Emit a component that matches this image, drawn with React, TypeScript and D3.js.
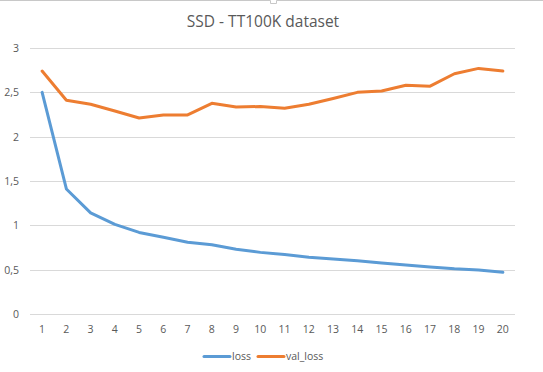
import { useEffect, useRef } from "react";
import * as d3 from "d3";

const epochs = ["1", "2", "3", "4", "5", "6", "7", "8", "9", "10", "11", "12", "13", "14", "15", "16", "17", "18", "19", "20"];
const loss = [2.5, 1.41, 1.14, 1.01, 0.92, 0.865, 0.81, 0.78, 0.73, 0.695, 0.67, 0.64, 0.62, 0.6, 0.575, 0.553, 0.53, 0.51, 0.497, 0.47];
const valLoss = [2.74, 2.41, 2.365, 2.29, 2.21, 2.245, 2.245, 2.376, 2.335, 2.34, 2.32, 2.365, 2.43, 2.5, 2.515, 2.58, 2.57, 2.71, 2.77, 2.74];
const yTicks = [0, 0.5, 1, 1.5, 2, 2.5, 3];

const seriesList = [
  { name: "loss", values: loss, color: "#5B9BD5" },
  { name: "val_loss", values: valLoss, color: "#ED7D31" }
];

export default function App() {
  const ref = useRef<SVGSVGElement | null>(null);

  useEffect(() => {
    if (!ref.current) return;
    const svg = d3.select(ref.current);
    svg.selectAll("*").remove();

    const width = 543;
    const height = 372;
    const font = "'Open Sans', 'Liberation Sans', sans-serif";
    const textColor = "#595959";

    const x = d3.scaleBand().domain(epochs).range([30, 515]);
    const y = d3.scaleLinear().domain([0, 3]).range([314, 48]);
    const cx = (i: number) => (x(epochs[i]) ?? 0) + x.bandwidth() / 2;

    svg.attr("width", width).attr("height", height);

    svg.append("rect")
      .attr("width", width).attr("height", height)
      .attr("fill", "#fff");

    // top edge of the chart frame with its little resize handle
    svg.append("path")
      .attr("d", "M0,0.5 H270.5 V3.5 H276.5 V0.5 H543")
      .attr("fill", "#fff").attr("stroke", "#c8c8c8");

    svg.append("text")
      .attr("x", 263).attr("y", 27)
      .attr("text-anchor", "middle")
      .attr("font-family", font).attr("font-size", 15.5)
      .attr("fill", textColor)
      .text("SSD - TT100K dataset");

    // gridlines
    svg.append("g").selectAll("line")
      .data(yTicks)
      .join("line")
      .attr("x1", 30).attr("x2", 515)
      .attr("y1", (d: number) => Math.round(y(d)) + 0.5)
      .attr("y2", (d: number) => Math.round(y(d)) + 0.5)
      .attr("stroke", "#d9d9d9").attr("stroke-width", 1);

    svg.append("g").selectAll("text")
      .data(yTicks)
      .join("text")
      .attr("x", 19).attr("y", (d: number) => y(d) + 4)
      .attr("text-anchor", "end")
      .attr("font-family", font).attr("font-size", 10.5)
      .attr("fill", textColor)
      .text((d: number) => String(d).replace(".", ","));

    svg.append("g").selectAll("text")
      .data(epochs)
      .join("text")
      .attr("x", (_d: string, i: number) => cx(i)).attr("y", 333)
      .attr("text-anchor", "middle")
      .attr("font-family", font).attr("font-size", 10.5)
      .attr("fill", textColor)
      .text((d: string) => d);

    const line = d3.line<number>()
      .x((_d: number, i: number) => cx(i))
      .y((d: number) => y(d));

    seriesList.forEach((s) => {
      svg.append("path")
        .datum(s.values)
        .attr("d", line)
        .attr("fill", "none")
        .attr("stroke", s.color)
        .attr("stroke-width", 3)
        .attr("stroke-linejoin", "round")
        .attr("stroke-linecap", "round");
    });

    // legend
    const legendX = [204, 258];
    const legend = svg.append("g");
    seriesList.forEach((s, i) => {
      legend.append("line")
        .attr("x1", legendX[i]).attr("x2", legendX[i] + 26)
        .attr("y1", 356.5).attr("y2", 356.5)
        .attr("stroke", s.color).attr("stroke-width", 3)
        .attr("stroke-linecap", "round");
      legend.append("text")
        .attr("x", legendX[i] + 28).attr("y", 360)
        .attr("font-family", font).attr("font-size", 10.5)
        .attr("fill", textColor)
        .text(s.name);
    });
  }, []);

  return <svg ref={ref} style={{ position: "fixed", left: 0, top: 0, display: "block" }} />;
}
